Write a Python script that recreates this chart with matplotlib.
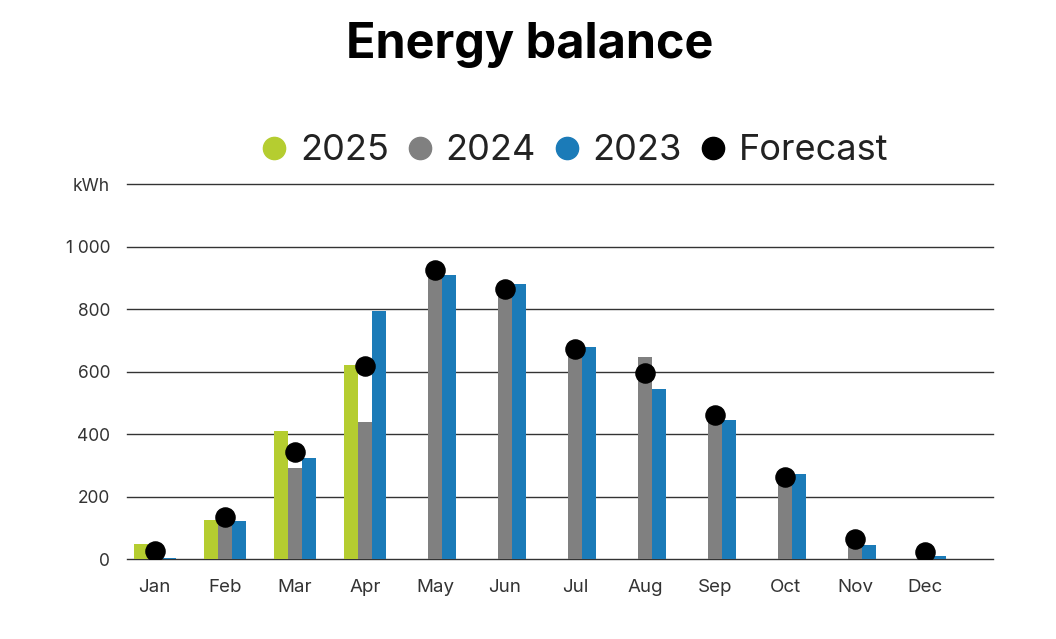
import matplotlib.pyplot as plt
import numpy as np

plt.rcParams['font.family'] = ['Inter', 'DejaVu Sans']

months = ['Jan', 'Feb', 'Mar', 'Apr', 'May', 'Jun', 'Jul', 'Aug', 'Sep', 'Oct', 'Nov', 'Dec']
y2025 = [48, 125, 410, 622, 0, 0, 0, 0, 0, 0, 0, 0]
y2024 = [12, 130, 292, 439, 920, 862, 670, 647, 455, 258, 48, 14]
y2023 = [3, 122, 324, 795, 910, 881, 679, 545, 446, 272, 44, 10]
forecast = [26, 135, 343, 619, 926, 865, 673, 596, 462, 263, 64, 22]

yticks = [0, 200, 400, 600, 800, 1000, 1200]
ylabels = ['0', '200', '400', '600', '800', '1 000', 'kWh']

c25 = '#b5cd30'
c24 = '#808080'
c23 = '#1b7bb8'

fig = plt.figure(figsize=(10.56, 6.39), dpi=100)
ax = fig.add_axes([0.12, 0.125, 0.82, 0.587])

x = np.arange(len(months))
w = 0.2
ax.bar(x - w, y2025, w, color=c25, label='2025', zorder=2)
ax.bar(x, y2024, w, color=c24, label='2024', zorder=2)
ax.bar(x + w, y2023, w, color=c23, label='2023', zorder=2)
ax.scatter(x, forecast, s=190, color='black', label='Forecast', zorder=3)

ax.set_ylim(0, 1200)
ax.set_xlim(-0.4, 11.96)
ax.set_yticks(yticks)
ax.set_yticklabels(ylabels)
ax.set_xticks(x)
ax.set_xticklabels(months)
ax.tick_params(axis='x', length=0, labelsize=13.5, colors='#333333', pad=14)
ax.tick_params(axis='y', length=0, labelsize=12.5, colors='#333333', pad=12)
for s in ax.spines.values():
    s.set_visible(False)
ax.grid(axis='y', color='#333333', linewidth=1.0, zorder=0)
ax.set_axisbelow(True)
for gl in ax.get_ygridlines():
    gl.set_clip_on(False)

handles = [
    plt.Line2D([], [], marker='o', linestyle='', markersize=16, color=c25),
    plt.Line2D([], [], marker='o', linestyle='', markersize=16, color=c24),
    plt.Line2D([], [], marker='o', linestyle='', markersize=16, color=c23),
    plt.Line2D([], [], marker='o', linestyle='', markersize=16, color='black'),
]
fig.legend(handles, ['2025', '2024', '2023', 'Forecast'], loc='center',
           bbox_to_anchor=(0.54, 0.764), ncol=4, frameon=False, fontsize=26,
           handletextpad=0.12, columnspacing=0.25, handlelength=1.2,
           labelcolor='#222222')

fig.text(0.502, 0.929, 'Energy balance', ha='center', va='center',
         fontsize=35, fontweight='bold')

fig.savefig('out.png', dpi=100, facecolor='white')
